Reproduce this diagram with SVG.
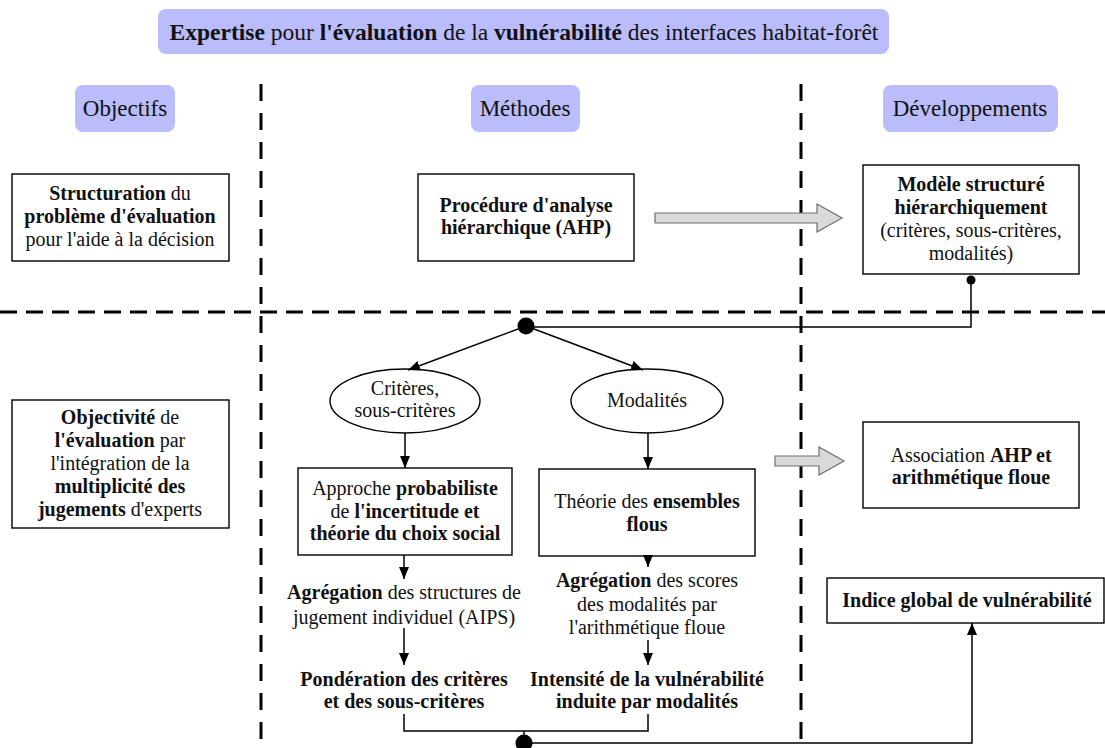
<svg xmlns="http://www.w3.org/2000/svg" width="1105" height="748" viewBox="0 0 1105 748">
<defs>
<style>
text{font-family:"Liberation Serif","Times New Roman",serif;fill:#111;text-anchor:middle}
.t{font-size:20px}
.h{font-size:23px}
.ti{font-size:23.5px}
.b{font-weight:bold}
.hdr{fill:#babcfc}
.box{fill:#fff;stroke:#000;stroke-width:1.4}
.dv{stroke:#000;stroke-width:3;stroke-dasharray:17 12;fill:none}
.dh{stroke:#000;stroke-width:3;stroke-dasharray:17 9;fill:none}
.ln{stroke:#000;stroke-width:1.5;fill:none}
.big{fill:#d9d9d9;stroke:#6e6e6e;stroke-width:1.2}
</style>
<marker id="ah" markerWidth="12" markerHeight="10" refX="12" refY="5" orient="auto" markerUnits="userSpaceOnUse">
<path d="M0,0 L12,5 L0,10 Z" fill="#000"/>
</marker>
</defs>
<rect width="1105" height="748" fill="#fff"/>

<g id="grid">
<line class="dv" x1="261" y1="84" x2="261" y2="748"/>
<line class="dv" x1="801" y1="84" x2="801" y2="748"/>
<line class="dh" x1="0" y1="312" x2="1105" y2="312"/>
</g>

<g id="title">
<rect class="hdr" x="158" y="9" width="731" height="45" rx="8"/>
<text class="ti" x="524" y="40"><tspan class="b">Expertise</tspan> pour <tspan class="b">l'évaluation</tspan> de la <tspan class="b">vulnérabilité</tspan> des interfaces habitat-forêt</text>
</g>

<g id="h-objectifs">
<rect class="hdr" x="75" y="85" width="100" height="47" rx="8"/>
<text class="h" x="125" y="116">Objectifs</text>
</g>
<g id="h-methodes">
<rect class="hdr" x="471" y="85" width="109" height="47" rx="8"/>
<text class="h" x="525" y="116">Méthodes</text>
</g>
<g id="h-developpements">
<rect class="hdr" x="883" y="85" width="175" height="47" rx="8"/>
<text class="h" x="970" y="116">Développements</text>
</g>

<g id="n-structuration">
<rect class="box" x="12" y="174" width="217" height="87"/>
<text class="t" x="120" y="200"><tspan class="b">Structuration</tspan> du</text>
<text class="t b" x="120" y="223">problème d'évaluation</text>
<text class="t" x="120" y="246">pour l'aide à la décision</text>
</g>

<g id="n-procedure">
<rect class="box" x="418" y="174" width="216" height="87"/>
<text class="t b" x="526" y="212">Procédure d'analyse</text>
<text class="t b" x="526" y="234">hiérarchique (AHP)</text>
</g>

<g id="n-modele">
<rect class="box" x="863" y="165" width="216" height="109"/>
<text class="t b" x="971" y="191">Modèle structuré</text>
<text class="t b" x="971" y="214">hiérarchiquement</text>
<text class="t" x="971" y="237">(critères, sous-critères,</text>
<text class="t" x="971" y="260">modalités)</text>
</g>

<g id="n-objectivite">
<rect class="box" x="12" y="400" width="217" height="128"/>
<text class="t" x="120" y="424"><tspan class="b">Objectivité</tspan> de</text>
<text class="t" x="120" y="447"><tspan class="b">l'évaluation</tspan> par</text>
<text class="t" x="120" y="470">l'intégration de la</text>
<text class="t b" x="120" y="493">multiplicité des</text>
<text class="t" x="120" y="516"><tspan class="b">jugements</tspan> d'experts</text>
</g>

<g id="n-criteres">
<ellipse class="box" cx="405" cy="401" rx="75" ry="32"/>
<text class="t" x="405" y="395">Critères,</text>
<text class="t" x="405" y="417">sous-critères</text>
</g>

<g id="n-modalites">
<ellipse class="box" cx="647" cy="401" rx="76" ry="32"/>
<text class="t" x="647" y="407">Modalités</text>
</g>

<g id="n-approche">
<rect class="box" x="298" y="468" width="214" height="87"/>
<text class="t" x="405" y="495">Approche <tspan class="b">probabiliste</tspan></text>
<text class="t" x="405" y="518">de <tspan class="b">l'incertitude et</tspan></text>
<text class="t b" x="405" y="540">théorie du choix social</text>
</g>

<g id="n-theorie">
<rect class="box" x="539" y="469" width="216" height="87"/>
<text class="t" x="647" y="508">Théorie des <tspan class="b">ensembles</tspan></text>
<text class="t b" x="647" y="531">flous</text>
</g>

<g id="n-association">
<rect class="box" x="863" y="422" width="216" height="86"/>
<text class="t" x="971" y="462">Association <tspan class="b">AHP et</tspan></text>
<text class="t b" x="971" y="484">arithmétique floue</text>
</g>

<g id="n-aips">
<text class="t" x="404" y="599"><tspan class="b">Agrégation</tspan> des structures de</text>
<text class="t" x="404" y="624">jugement individuel (AIPS)</text>
</g>

<g id="n-ponderation">
<text class="t b" x="404" y="686">Pondération des critères</text>
<text class="t b" x="404" y="708">et des sous-critères</text>
</g>

<g id="n-scores">
<text class="t" x="647" y="587"><tspan class="b">Agrégation</tspan> des scores</text>
<text class="t" x="647" y="611">des modalités par</text>
<text class="t" x="647" y="634">l'arithmétique floue</text>
</g>

<g id="n-intensite">
<text class="t b" x="647" y="686">Intensité de la vulnérabilité</text>
<text class="t b" x="647" y="708">induite par modalités</text>
</g>

<g id="n-indice">
<rect class="box" x="827" y="578" width="277" height="45"/>
<text class="t b" x="967" y="607">Indice global de vulnérabilité</text>
</g>

<g id="connectors">
<path class="big" d="M655,213 H817 V204 L842,218 L817,232 V223 H655 Z"/>
<path class="big" d="M775,456 H819 V447 L844,461 L819,475 V466 H775 Z"/>
<path class="ln" d="M971,280 V327 H526"/>
<circle cx="971" cy="280" r="4.5" fill="#000"/>
<circle cx="526" cy="326" r="8.5" fill="#000"/>
<line class="ln" x1="526" y1="326" x2="408" y2="370" marker-end="url(#ah)"/>
<line class="ln" x1="526" y1="326" x2="643" y2="370" marker-end="url(#ah)"/>
<line class="ln" x1="405" y1="433" x2="405" y2="468" marker-end="url(#ah)"/>
<line class="ln" x1="648" y1="433" x2="648" y2="469" marker-end="url(#ah)"/>
<line class="ln" x1="404" y1="555" x2="404" y2="579" marker-end="url(#ah)"/>
<line class="ln" x1="404" y1="628" x2="404" y2="665" marker-end="url(#ah)"/>
<line class="ln" x1="648" y1="556" x2="648" y2="567" marker-end="url(#ah)"/>
<line class="ln" x1="648" y1="640" x2="648" y2="665" marker-end="url(#ah)"/>
<path class="ln" d="M404,714 V731 H648 V714 M524,731 V743"/>
<circle cx="524" cy="743" r="8.5" fill="#000"/>
<path class="ln" d="M524,743 H972 V623" marker-end="url(#ah)"/>
</g>
</svg>
